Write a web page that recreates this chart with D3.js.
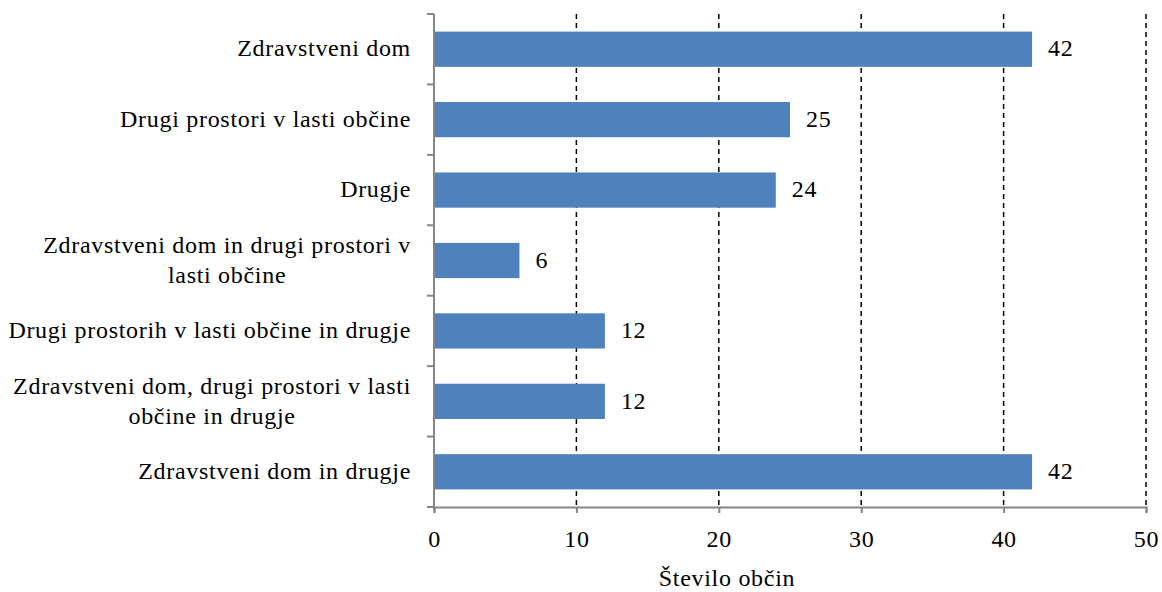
<!DOCTYPE html>
<html>
<head>
<meta charset="utf-8">
<script src="https://cdn.jsdelivr.net/npm/d3@7"></script>
<style>
  body { margin: 0; background: #fff; }
</style>
</head>
<body>
<svg width="1162" height="592"></svg>
<script>
// categories top to bottom, each one a list of label lines
var categories = [
    ["Zdravstveni dom"],
    ["Drugi prostori v lasti občine"],
    ["Drugje"],
    ["Zdravstveni dom in drugi prostori v", "lasti občine"],
    ["Drugi prostorih v lasti občine in drugje"],
    ["Zdravstveni dom, drugi prostori v lasti", "občine in drugje"],
    ["Zdravstveni dom in drugje"]
];
var values = [42, 25, 24, 6, 12, 12, 42];
var xTicks = [0, 10, 20, 30, 40, 50];
var xTitle = "Število občin";

var FONT = "'Liberation Serif'";
var FS = "24px";
var LS = "0.7px";

var svg = d3.select("svg");
var margin = { left: 434, right: 16, top: 14, bottom: 85 };
var width = 1162, height = 592;

var x = d3.scaleLinear()
    .domain([0, 50])
    .range([margin.left, width - margin.right]);

var y = d3.scaleBand()
    .domain(d3.range(categories.length))
    .range([margin.top, height - margin.bottom])
    .paddingInner(0.5)
    .paddingOuter(0.25);

var bandEdge = d3.scaleLinear()
    .domain([0, categories.length])
    .range([margin.top, height - margin.bottom]);

// dashed gridlines
svg.append("g")
  .selectAll("line")
  .data(xTicks.filter(function(d) { return d > 0; }))
  .enter().append("line")
    .attr("x1", function(d) { return x(d); })
    .attr("x2", function(d) { return x(d); })
    .attr("y1", margin.top)
    .attr("y2", height - margin.bottom)
    .attr("stroke", "#000")
    .attr("stroke-width", 1.5)
    .attr("stroke-dasharray", "5,4");

// bars
svg.append("g")
  .selectAll("rect")
  .data(values)
  .enter().append("rect")
    .attr("x", x(0))
    .attr("y", function(d, i) { return y(i); })
    .attr("width", function(d) { return x(d) - x(0); })
    .attr("height", y.bandwidth())
    .attr("fill", "#4F81BD");

// value labels
svg.append("g")
  .selectAll("text")
  .data(values)
  .enter().append("text")
    .attr("x", function(d) { return x(d) + 16; })
    .attr("y", function(d, i) { return y(i) + y.bandwidth() / 2; })
    .attr("dy", "0.3em")
    .style("font-family", FONT)
    .style("font-size", FS)
    .style("letter-spacing", LS)
    .attr("fill", "#000")
    .text(function(d) { return d; });

// x axis
var xAxis = svg.append("g")
    .attr("transform", "translate(0," + (height - margin.bottom) + ")")
    .call(d3.axisBottom(x).tickValues(xTicks).tickSize(6).tickPadding(17));
xAxis.select(".domain").attr("stroke", "#868686").attr("stroke-width", 2);
xAxis.selectAll(".tick line").attr("stroke", "#868686").attr("stroke-width", 2);
xAxis.selectAll(".tick text")
    .style("font-size", FS)
    .style("font-family", FONT)
    .style("letter-spacing", LS)
    .attr("fill", "#000");

// y axis line and category ticks
var yAxis = svg.append("g");
yAxis.append("line")
    .attr("x1", x(0)).attr("x2", x(0))
    .attr("y1", margin.top).attr("y2", height - margin.bottom)
    .attr("stroke", "#868686").attr("stroke-width", 2);
yAxis.selectAll("line.tick")
  .data(d3.range(categories.length + 1))
  .enter().append("line")
    .attr("class", "tick")
    .attr("x1", x(0) - 7).attr("x2", x(0))
    .attr("y1", function(d) { return bandEdge(d); })
    .attr("y2", function(d) { return bandEdge(d); })
    .attr("stroke", "#868686").attr("stroke-width", 2);

// category labels, wrapped lines centred inside a right-aligned block
var labelRight = 411, lineHeight = 30;
var label = svg.append("g")
  .selectAll("text")
  .data(categories)
  .enter().append("text")
    .style("font-family", FONT)
    .style("font-size", FS)
    .style("letter-spacing", LS)
    .attr("fill", "#000")
    .attr("text-anchor", "middle");

label.each(function(lines, i) {
    var t = d3.select(this);
    var cy = y(i) + y.bandwidth() / 2;
    lines.forEach(function(line, j) {
        t.append("tspan")
            .attr("y", cy + (j - (lines.length - 1) / 2) * lineHeight)
            .attr("dy", "0.3em")
            .text(line);
    });
    var maxW = 0;
    t.selectAll("tspan").each(function() {
        maxW = Math.max(maxW, this.getComputedTextLength());
    });
    t.selectAll("tspan").attr("x", labelRight - maxW / 2);
});

// axis title
svg.append("text")
    .attr("x", 727)
    .attr("y", 586)
    .attr("text-anchor", "middle")
    .style("font-family", FONT)
    .style("font-size", FS)
    .style("letter-spacing", LS)
    .attr("fill", "#000")
    .text(xTitle);
</script>
</body>
</html>
